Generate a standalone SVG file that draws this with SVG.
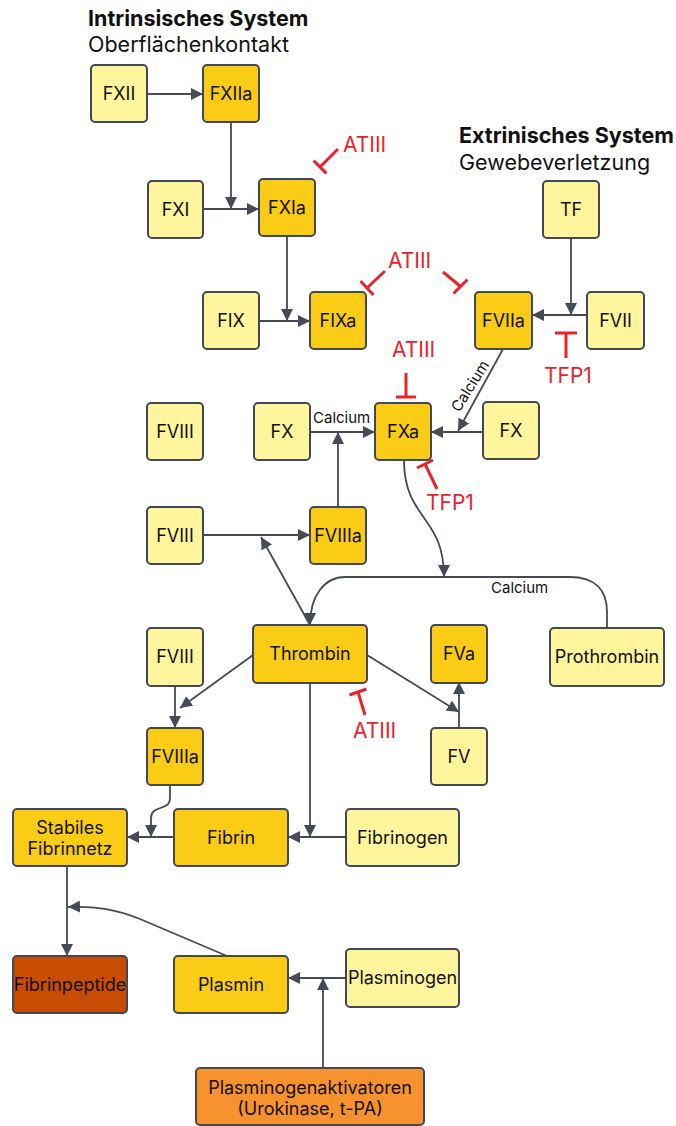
<svg xmlns="http://www.w3.org/2000/svg" width="676" height="1126" viewBox="0 0 676 1126">
<style>
.n rect{stroke:#424854;stroke-width:2}
.l rect{fill:#fff59d}
.d rect{fill:#facc15}
.n text{font-family:Inter,"Liberation Sans",sans-serif;font-size:18px;fill:#111;text-anchor:middle}
.c path,.c line{fill:none;stroke:#444b57;stroke-width:1.8}
.inh line{stroke:#e8232b;stroke-width:3;fill:none}
.rt{font-family:Inter,"Liberation Sans",sans-serif;font-size:21px;fill:#e8232b}
.ct{font-family:Inter,"Liberation Sans",sans-serif;font-size:15px;fill:#111}
.tb{font-family:Inter,"Liberation Sans",sans-serif;font-size:21.5px;font-weight:bold;fill:#111}
.tr{font-family:Inter,"Liberation Sans",sans-serif;font-size:21.5px;fill:#111}
</style>
<defs>
<marker id="a" viewBox="0 0 10 10" refX="10" refY="5" markerWidth="12" markerHeight="12" markerUnits="userSpaceOnUse" orient="auto">
<path d="M0,0 L10,5 L0,10 z" fill="#444b57"/>
</marker>
</defs>
<g id="titles">
<text class="tb" x="88" y="26">Intrinsisches System</text>
<text class="tr" x="88" y="52">Oberflächenkontakt</text>
<text class="tb" x="459" y="143">Extrinisches System</text>
<text class="tr" x="459" y="170">Gewebeverletzung</text>
</g>
<g id="connectors" class="c">
<line x1="147" y1="94" x2="203" y2="94" marker-end="url(#a)"/>
<line x1="231" y1="122" x2="231" y2="209" marker-end="url(#a)"/>
<line x1="203" y1="209" x2="259" y2="209" marker-end="url(#a)"/>
<line x1="287" y1="236" x2="287" y2="321" marker-end="url(#a)"/>
<line x1="259" y1="321" x2="310" y2="321" marker-end="url(#a)"/>
<line x1="571" y1="238" x2="571" y2="315" marker-end="url(#a)"/>
<line x1="587" y1="315" x2="532" y2="315" marker-end="url(#a)"/>
<line x1="503" y1="349" x2="458" y2="431" marker-end="url(#a)"/>
<line x1="310" y1="432" x2="375" y2="432" marker-end="url(#a)"/>
<line x1="483" y1="432" x2="431" y2="432" marker-end="url(#a)"/>
<line x1="338" y1="507" x2="338" y2="432" marker-end="url(#a)"/>
<line x1="203" y1="535" x2="310" y2="535" marker-end="url(#a)"/>
<line x1="310" y1="625" x2="261" y2="537" marker-end="url(#a)"/>
<path d="M404,460 C404,520 444,515 444,577" marker-end="url(#a)"/>
<path d="M607,628 L607,612 C607,590 595,577 570,577 L345,577 C325,577 310,595 310,625" marker-end="url(#a)"/>
<line x1="253" y1="655" x2="180" y2="708" marker-end="url(#a)"/>
<line x1="175" y1="686" x2="175" y2="728" marker-end="url(#a)"/>
<line x1="367" y1="655" x2="459" y2="712" marker-end="url(#a)"/>
<line x1="459" y1="728" x2="459" y2="682" marker-end="url(#a)"/>
<line x1="310" y1="682" x2="310" y2="837" marker-end="url(#a)"/>
<line x1="346" y1="837" x2="288" y2="837" marker-end="url(#a)"/>
<line x1="174" y1="837" x2="127" y2="837" marker-end="url(#a)"/>
<path d="M170,785 L170,798 C170,812 151,804 151,818 L151,837" marker-end="url(#a)"/>
<line x1="67" y1="866" x2="67" y2="956" marker-end="url(#a)"/>
<path d="M227,956 L140,919 C115,909 95,906 68,907" marker-end="url(#a)"/>
<line x1="346" y1="978" x2="288" y2="978" marker-end="url(#a)"/>
<line x1="323" y1="1068" x2="323" y2="978" marker-end="url(#a)"/>
</g>
<g id="connector-labels">
<text class="ct" x="313" y="423">Calcium</text>
<text class="ct" x="470" y="386" dy="0.35em" text-anchor="middle" transform="rotate(-58 470 386)">Calcium</text>
<text class="ct" x="491" y="593">Calcium</text>
</g>
<g id="inhibitors" class="inh">
<line x1="338" y1="149" x2="320" y2="167"/><line x1="313.6" y1="160.6" x2="326.4" y2="173.4"/>
<line x1="385" y1="271" x2="367" y2="288"/><line x1="360.5" y1="281" x2="373.5" y2="295"/>
<line x1="443" y1="272" x2="460.5" y2="286.5"/><line x1="453.5" y1="293.5" x2="467.5" y2="279.5"/>
<line x1="406" y1="373" x2="406" y2="397"/><line x1="396" y1="397" x2="416" y2="397"/>
<line x1="566" y1="333" x2="566" y2="358"/><line x1="555" y1="333" x2="577" y2="333"/>
<line x1="437" y1="489" x2="425" y2="464"/><line x1="417" y1="468" x2="433" y2="460"/>
<line x1="365" y1="715" x2="358" y2="692"/><line x1="349.5" y1="695" x2="366.5" y2="689"/>
<text class="rt" x="343" y="152">ATIII</text>
<text class="rt" x="388" y="268">ATIII</text>
<text class="rt" x="392" y="357">ATIII</text>
<text class="rt" x="544" y="383">TFP1</text>
<text class="rt" x="426" y="510">TFP1</text>
<text class="rt" x="353" y="738">ATIII</text>
</g>
<g id="FXII" class="n l"><rect x="91" y="65" width="56" height="57" rx="4"/><text x="119" y="100">FXII</text></g>
<g id="FXIIa" class="n d"><rect x="203" y="65" width="56" height="57" rx="4"/><text x="231" y="100">FXIIa</text></g>
<g id="FXI" class="n l"><rect x="148" y="181" width="55" height="57" rx="4"/><text x="175.5" y="216">FXI</text></g>
<g id="FXIa" class="n d"><rect x="259" y="179" width="56" height="57" rx="4"/><text x="287" y="214">FXIa</text></g>
<g id="TF" class="n l"><rect x="543" y="181" width="56" height="57" rx="4"/><text x="571" y="216">TF</text></g>
<g id="FIX" class="n l"><rect x="203" y="292" width="56" height="57" rx="4"/><text x="231" y="327">FIX</text></g>
<g id="FIXa" class="n d"><rect x="310" y="292" width="56" height="57" rx="4"/><text x="338" y="327">FIXa</text></g>
<g id="FVIIa" class="n d"><rect x="475" y="292" width="57" height="57" rx="4"/><text x="503.5" y="327">FVIIa</text></g>
<g id="FVII" class="n l"><rect x="587" y="292" width="57" height="57" rx="4"/><text x="615.5" y="327">FVII</text></g>
<g id="FVIII-1" class="n l"><rect x="147" y="403" width="56" height="57" rx="4"/><text x="175" y="438">FVIII</text></g>
<g id="FX-1" class="n l"><rect x="254" y="403" width="56" height="57" rx="4"/><text x="282" y="438">FX</text></g>
<g id="FXa" class="n d"><rect x="375" y="403" width="56" height="57" rx="4"/><text x="403" y="438">FXa</text></g>
<g id="FX-2" class="n l"><rect x="483" y="402" width="56" height="57" rx="4"/><text x="511" y="437">FX</text></g>
<g id="FVIII-2" class="n l"><rect x="147" y="507" width="56" height="57" rx="4"/><text x="175" y="542">FVIII</text></g>
<g id="FVIIIa-1" class="n d"><rect x="310" y="507" width="56" height="57" rx="4"/><text x="338" y="542">FVIIIa</text></g>
<g id="FVIII-3" class="n l"><rect x="147" y="628" width="56" height="58" rx="4"/><text x="175" y="663">FVIII</text></g>
<g id="Thrombin" class="n d"><rect x="253" y="625" width="114" height="58" rx="4"/><text x="310" y="660">Thrombin</text></g>
<g id="FVa" class="n d"><rect x="431" y="625" width="56" height="58" rx="4"/><text x="459" y="660">FVa</text></g>
<g id="Prothrombin" class="n l"><rect x="550" y="628" width="114" height="58" rx="4"/><text x="607" y="663">Prothrombin</text></g>
<g id="FVIIIa-2" class="n d"><rect x="147" y="728" width="56" height="57" rx="4"/><text x="175" y="763">FVIIIa</text></g>
<g id="FV" class="n l"><rect x="431" y="728" width="56" height="57" rx="4"/><text x="459" y="763">FV</text></g>
<g id="Stabiles-Fibrinnetz" class="n d"><rect x="13" y="809" width="114" height="57" rx="4"/><text x="70" y="834">Stabiles</text><text x="70" y="855">Fibrinnetz</text></g>
<g id="Fibrin" class="n d"><rect x="174" y="809" width="114" height="57" rx="4"/><text x="231" y="844">Fibrin</text></g>
<g id="Fibrinogen" class="n l"><rect x="346" y="809" width="113" height="57" rx="4"/><text x="402.5" y="844">Fibrinogen</text></g>
<g id="Fibrinpeptide" class="n"><rect x="13" y="956" width="114" height="57" rx="4" fill="#c94c03"/><text x="70" y="991">Fibrinpeptide</text></g>
<g id="Plasmin" class="n d"><rect x="174" y="956" width="114" height="57" rx="4"/><text x="231" y="991">Plasmin</text></g>
<g id="Plasminogen" class="n l"><rect x="346" y="949" width="113" height="58" rx="4"/><text x="402.5" y="984">Plasminogen</text></g>
<g id="Plasminogenaktivatoren" class="n"><rect x="196" y="1068" width="228" height="57" rx="4" fill="#f7922f"/><text x="310" y="1094">Plasminogenaktivatoren</text><text x="310" y="1115">(Urokinase, t-PA)</text></g>
</svg>
